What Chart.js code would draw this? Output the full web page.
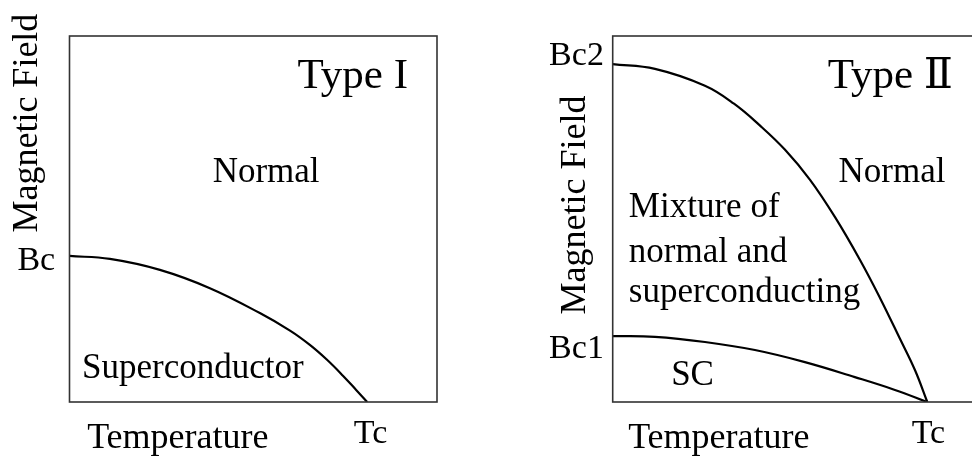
<!DOCTYPE html>
<html>
<head>
<meta charset="utf-8">
<script src="https://cdn.jsdelivr.net/npm/chart.js@4.4.1/dist/chart.umd.min.js"></script>
<style>
  html, body { margin: 0; padding: 0; background: #fff; overflow: hidden; width: 972px; height: 459px; }
  #wrap { position: relative; width: 972px; height: 459px; overflow: hidden; }
  canvas { position: absolute; top: 0; }
  #c1 { left: 0; }
  #c2 { left: 486px; }
</style>
</head>
<body>
<div id="wrap">
  <canvas id="c1" width="486" height="459"></canvas>
  <canvas id="c2" width="540" height="459"></canvas>
</div>
<script>
// ---------- Data (arbitrary units, axes 0..10) ----------
// Type I: critical field curve Bc(T)
const typeI_T  = [0.00, 1.10, 2.46, 3.82, 5.18, 6.00, 6.54, 7.00, 7.44, 7.80, 8.10];
const typeI_B  = [3.99, 3.91, 3.61, 3.11, 2.43, 1.95, 1.56, 1.16, 0.72, 0.33, 0.00];

// Type II: upper critical field Bc2(T)
const typeII_upper_T = [0.00, 1.15, 2.51, 3.30, 4.01, 4.69, 5.37, 6.05, 6.73, 7.27, 7.82, 8.23, 8.56];
const typeII_upper_B = [9.23, 9.10, 8.64, 8.15, 7.55, 6.89, 6.07, 5.05, 3.88, 2.85, 1.72, 0.86, 0.00];

// Type II: lower critical field Bc1(T)
const typeII_lower_T = [0.00, 1.15, 2.51, 3.87, 5.23, 6.59, 7.68, 8.56];
const typeII_lower_B = [1.80, 1.78, 1.64, 1.42, 1.09, 0.68, 0.33, 0.00];

// Axis labels / tick labels
const axisLabelX = "Temperature";
const axisLabelY = "Magnetic Field";
const tickLabelsI  = ["Bc", "Tc"];
const tickLabelsII = ["Bc2", "Bc1", "Tc"];
const panelTitles  = ["Type I", "Type \u2161"];

// ---------- helpers ----------
function pts(xs, ys) { return xs.map((x, i) => ({ x: x, y: ys[i] })); }

const SERIF = '"Liberation Serif", "DejaVu Serif", "Noto Sans CJK JP", serif';

// annotation plugin: draws frame + texts placed in data coordinates
function makeTextPlugin(items) {
  return {
    id: 'texts',
    afterDatasetsDraw(chart) {
      const ctx = chart.ctx;
      const a = chart.chartArea;
      const xs = chart.scales.x, ys = chart.scales.y;
      ctx.save();
      // frame
      ctx.strokeStyle = '#333';
      ctx.lineWidth = 1.6;
      ctx.strokeRect(a.left, a.top, a.right - a.left, a.bottom - a.top);
      ctx.fillStyle = '#000';
      for (const it of items) {
        const px = xs.getPixelForValue(it.x);
        const py = ys.getPixelForValue(it.y);
        ctx.font = it.size + 'px ' + SERIF;
        ctx.textAlign = it.align || 'left';
        ctx.textBaseline = 'alphabetic';
        if (it.rotate) {
          ctx.save();
          ctx.translate(px, py);
          ctx.rotate(-Math.PI / 2);
          ctx.fillText(it.text, 0, 0);
          ctx.restore();
        } else {
          ctx.fillText(it.text, px, py);
        }
      }
      ctx.restore();
    }
  };
}

function baseOptions(padding) {
  return {
    responsive: false,
    animation: false,
    devicePixelRatio: 1,
    layout: { padding: padding },
    plugins: { legend: { display: false }, tooltip: { enabled: false } },
    scales: {
      x: { type: 'linear', min: 0, max: 10, display: false },
      y: { type: 'linear', min: 0, max: 10, display: false }
    },
    elements: { point: { radius: 0 } }
  };
}

function lineDs(data) {
  return {
    data: data,
    showLine: true,
    borderColor: '#000',
    borderWidth: 2.2,
    pointRadius: 0,
    fill: false,
    tension: 0.4,
    cubicInterpolationMode: 'default'
  };
}

// ---------- Type I ----------
const textsI = [
  { text: panelTitles[0], x: 9.21, y: 8.58, size: 43, align: 'right' },
  { text: 'Normal', x: 5.35, y: 6.01, size: 35, align: 'center' },
  { text: 'Superconductor', x: 0.34, y: 0.66, size: 35, align: 'left' },
  { text: axisLabelX, x: 0.48, y: -1.26, size: 36, align: 'left' },
  { text: tickLabelsI[1], x: 8.19, y: -1.12, size: 34, align: 'center' },
  { text: tickLabelsI[0], x: -0.39, y: 3.61, size: 34, align: 'right' },
  { text: axisLabelY, x: -0.88, y: 7.62, size: 36, align: 'center', rotate: true }
];

new Chart(document.getElementById('c1'), {
  type: 'scatter',
  data: { datasets: [lineDs(pts(typeI_T, typeI_B))] },
  options: baseOptions({ left: 69.5, top: 36, right: 49, bottom: 57 }),
  plugins: [makeTextPlugin(textsI)]
});

// ---------- Type II ----------
const textsII = [
  { text: panelTitles[1], x: 9.26, y: 8.58, size: 43, align: 'right' },
  { text: 'Normal', x: 7.60, y: 6.01, size: 35, align: 'center' },
  { text: 'Mixture of', x: 0.44, y: 5.05, size: 35, align: 'left' },
  { text: 'normal and', x: 0.44, y: 3.83, size: 35, align: 'left' },
  { text: 'superconducting', x: 0.44, y: 2.73, size: 35, align: 'left' },
  { text: 'SC', x: 1.59, y: 0.46, size: 35, align: 'left' },
  { text: axisLabelX, x: 0.42, y: -1.26, size: 36, align: 'left' },
  { text: tickLabelsII[2], x: 8.59, y: -1.12, size: 34, align: 'center' },
  { text: tickLabelsII[0], x: -0.24, y: 9.21, size: 34, align: 'right' },
  { text: tickLabelsII[1], x: -0.24, y: 1.20, size: 34, align: 'right' },
  { text: axisLabelY, x: -0.75, y: 5.38, size: 36, align: 'center', rotate: true }
];

new Chart(document.getElementById('c2'), {
  type: 'scatter',
  data: { datasets: [
    lineDs(pts(typeII_upper_T, typeII_upper_B)),
    lineDs(pts(typeII_lower_T, typeII_lower_B))
  ] },
  options: baseOptions({ left: 126.7, top: 36, right: 45.8, bottom: 57 }),
  plugins: [makeTextPlugin(textsII)]
});
</script>
</body>
</html>
